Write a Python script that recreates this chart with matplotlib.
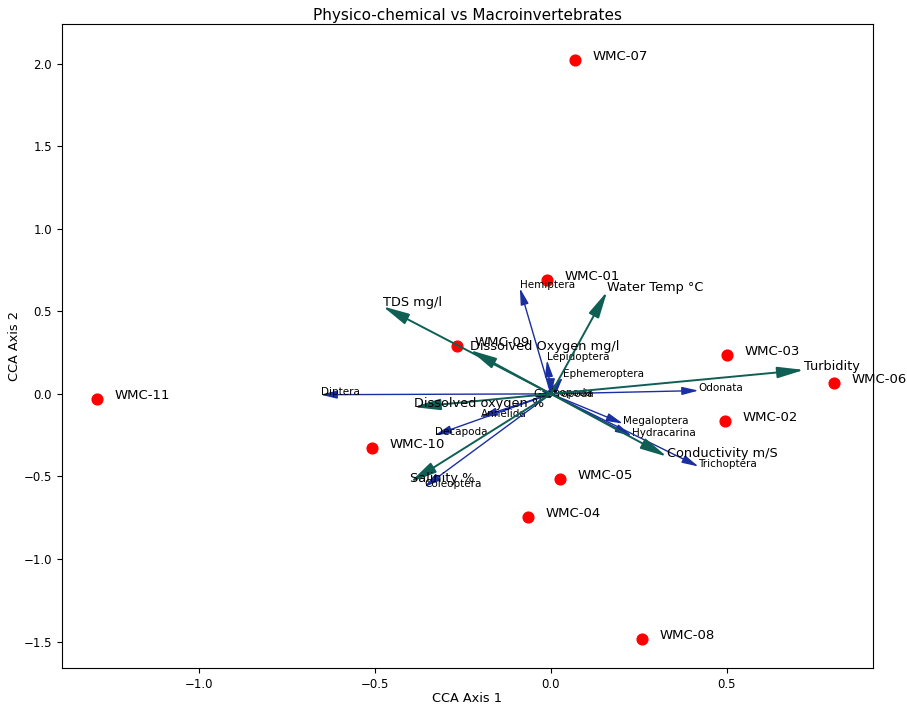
import numpy as np
import matplotlib.pyplot as plt

# site scores
sites = ["WMC-01", "WMC-02", "WMC-03", "WMC-04", "WMC-05", "WMC-06",
         "WMC-07", "WMC-08", "WMC-09", "WMC-10", "WMC-11"]
site_x = [-0.011, 0.495, 0.50, -0.065, 0.026, 0.805, 0.068, 0.259, -0.267, -0.51, -1.29]
site_y = [0.69, -0.164, 0.236, -0.745, -0.515, 0.067, 2.02, -1.485, 0.29, -0.33, -0.03]

# environmental vectors
env = ["TDS mg/l", "Water Temp °C", "Dissolved Oxygen mg/l", "Dissolved oxygen %",
       "Turbidity", "Conductivity m/S", "Salinity %"]
env_x = [-0.478, 0.16, -0.23, -0.39, 0.72, 0.33, -0.40]
env_y = [0.53, 0.62, 0.265, -0.08, 0.145, -0.38, -0.535]

# species vectors
species = ["Hemiptera", "Lepidoptera", "Ephemeroptera", "Diptera", "Odonata",
           "Megaloptera", "Hydracarina", "Trichoptera", "Annelida", "Decapoda",
           "Coleoptera", "Gastropoda", "Isopoda"]
sp_x = [-0.088, -0.011, 0.034, -0.655, 0.42, 0.205, 0.23, 0.42, -0.20, -0.33, -0.36, -0.05, 0.0]
sp_y = [0.64, 0.205, 0.10, -0.005, 0.02, -0.18, -0.255, -0.44, -0.14, -0.25, -0.565, -0.02, -0.01]

fig = plt.figure(figsize=(9.07, 7.05), dpi=100)
ax = fig.add_axes([0.068, 0.0525, 0.8945, 0.9135])

ax.scatter(site_x, site_y, color="red", s=60, zorder=3)
for name, x, y in zip(sites, site_x, site_y):
    ax.text(x + 0.05, y, name, fontsize=9.5)

for name, x, y in zip(species, sp_x, sp_y):
    ax.annotate("", xy=(x, y), xytext=(0, 0),
                arrowprops=dict(arrowstyle="-|>,head_length=0.9,head_width=0.22",
                                color="#1a2fa0", lw=1.0,
                                mutation_scale=11, shrinkA=0, shrinkB=0))
    ax.text(x, y, name, fontsize=7.5)

for name, x, y in zip(env, env_x, env_y):
    ax.annotate("", xy=(x, y), xytext=(0, 0),
                arrowprops=dict(arrowstyle="-|>,head_length=0.85,head_width=0.18",
                                color="#0f5f55", lw=1.4,
                                mutation_scale=19, shrinkA=0, shrinkB=0))
    ax.text(x, y, name, fontsize=9.3)

ax.set_xlim(-1.391, 0.916)
ax.set_ylim(-1.66, 2.24)
ax.set_xticks([-1.0, -0.5, 0.0, 0.5])
ax.set_yticks([-1.5, -1.0, -0.5, 0.0, 0.5, 1.0, 1.5, 2.0])
ax.tick_params(labelsize=8.5)
ax.set_title("Physico-chemical vs Macroinvertebrates", fontsize=11, pad=3)
ax.set_xlabel("CCA Axis 1", fontsize=9.3, labelpad=1)
ax.set_ylabel("CCA Axis 2", fontsize=9.3, labelpad=2)

plt.savefig("out.png", dpi=100)
